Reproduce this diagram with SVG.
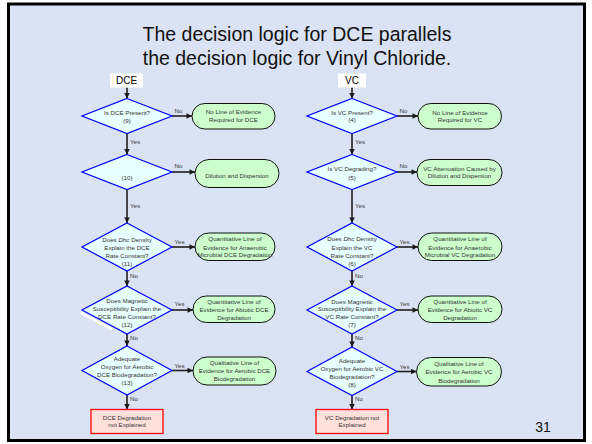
<svg xmlns="http://www.w3.org/2000/svg" width="592" height="444" viewBox="0 0 592 444">
  <defs>
    <marker id="arrow" viewBox="0 0 10 10" refX="10" refY="5" markerWidth="6" markerHeight="5.5" markerUnits="userSpaceOnUse" orient="auto">
      <path d="M0,0 L10,5 L0,10 z" fill="#1a1a1a"/>
    </marker>
    <style>
      .title { font-family: "Liberation Sans", Arial, sans-serif; font-size: 19.5px; fill: #111; text-anchor: middle; }
      .head { font-family: "Liberation Sans", Arial, sans-serif; font-size: 10px; fill: #000; text-anchor: middle; }
      .t { font-family: "Liberation Sans", Arial, sans-serif; font-size: 6.2px; fill: #333; text-anchor: middle; }
      .lbl { font-family: "Liberation Sans", Arial, sans-serif; font-size: 6.2px; fill: #333; }
      .lblc { font-family: "Liberation Sans", Arial, sans-serif; font-size: 6.2px; fill: #333; text-anchor: middle; }
      .pg { font-family: "Liberation Sans", Arial, sans-serif; font-size: 14px; fill: #111; text-anchor: middle; }
      .dec { fill: #E8FFFF; stroke: #0000FF; stroke-width: 1.2; }
      .term { fill: #CCFFCC; stroke: #111; stroke-width: 1; }
      .fail { fill: #FFE0DA; stroke: #FF0000; stroke-width: 1.3; }
      .hdr { fill: #FFFFFF; }
      .conn line { stroke: #1f1f1f; stroke-width: 1.6; marker-end: url(#arrow); }
    </style>
  </defs>

  <!-- slide background and frame -->
  <rect x="0" y="0" width="592" height="444" fill="#FFFFFF"/>
  <rect x="8.5" y="4" width="576" height="436.5" fill="#DAE3F3" stroke="#000" stroke-width="3"/>

  <!-- title -->
  <text class="title" x="297" y="41">The decision logic for DCE parallels</text>
  <text class="title" x="297" y="65">the decision logic for Vinyl Chloride.</text>

  <!-- connectors -->
  <g id="connectors" class="conn">
    <!-- DCE column -->
    <line x1="127" y1="87.5" x2="127" y2="98.5"/>
    <line x1="127" y1="133.5" x2="127" y2="154.5"/>
    <line x1="127" y1="189.5" x2="127" y2="223"/>
    <line x1="127" y1="271" x2="127" y2="286"/>
    <line x1="127" y1="334" x2="127" y2="346"/>
    <line x1="127" y1="395" x2="127" y2="409.5"/>
    <line x1="172" y1="116" x2="192" y2="116"/>
    <line x1="172" y1="172" x2="195" y2="172"/>
    <line x1="172" y1="247" x2="195" y2="247"/>
    <line x1="172" y1="310" x2="193" y2="310"/>
    <line x1="172" y1="370.5" x2="193" y2="370.5"/>
    <!-- VC column -->
    <line x1="352" y1="87.5" x2="352" y2="98.5"/>
    <line x1="352" y1="133.5" x2="352" y2="154.5"/>
    <line x1="352" y1="189.5" x2="352" y2="223"/>
    <line x1="352" y1="271" x2="352" y2="286"/>
    <line x1="352" y1="334" x2="352" y2="347"/>
    <line x1="352" y1="395.5" x2="352" y2="409.5"/>
    <line x1="397" y1="116" x2="418" y2="116"/>
    <line x1="397" y1="172" x2="417" y2="172"/>
    <line x1="397" y1="247" x2="418" y2="247"/>
    <line x1="397" y1="310" x2="418" y2="310"/>
    <line x1="397" y1="371.5" x2="416.5" y2="371.5"/>
  </g>

  <!-- connector labels -->
  <g id="connector-labels">
    <text class="lbl" x="130" y="144.2">Yes</text>
    <text class="lbl" x="130" y="208">Yes</text>
    <text class="lbl" x="130" y="278.2">No</text>
    <text class="lbl" x="130" y="340">No</text>
    <text class="lbl" x="130" y="401.2">No</text>
    <text class="lblc" x="178.5" y="113">No</text>
    <text class="lblc" x="178.5" y="168.3">No</text>
    <text class="lblc" x="179.5" y="244">Yes</text>
    <text class="lblc" x="179.5" y="305.6">Yes</text>
    <text class="lblc" x="179.5" y="368.3">Yes</text>

    <text class="lbl" x="355" y="144.2">Yes</text>
    <text class="lbl" x="355" y="208">Yes</text>
    <text class="lbl" x="355" y="278.2">No</text>
    <text class="lbl" x="355" y="340">No</text>
    <text class="lbl" x="355" y="401.2">No</text>
    <text class="lblc" x="403.5" y="113">No</text>
    <text class="lblc" x="403.5" y="168.3">No</text>
    <text class="lblc" x="404.5" y="244">Yes</text>
    <text class="lblc" x="404.5" y="305.6">Yes</text>
    <text class="lblc" x="404.5" y="368.8">Yes</text>
  </g>

  <!-- ===== DCE column ===== -->
  <g id="dce-head">
    <rect class="hdr" x="110" y="73.5" width="33" height="14"/>
    <text class="head" x="126.5" y="84.3">DCE</text>
  </g>

  <g id="dce-q9">
    <polygon class="dec" points="127,98.5 172,116 127,133.5 82,116"/>
    <text class="t" x="127" y="114.6">Is DCE Present?</text>
    <text class="t" x="127" y="122.8">(9)</text>
  </g>
  <g id="dce-none">
    <rect class="term" x="192" y="103.5" width="83" height="25.5" rx="12.75"/>
    <text class="t" x="233.5" y="114.4">No Line of Evidence</text>
    <text class="t" x="233.5" y="122.3">Required for DCE</text>
  </g>

  <g id="dce-q10">
    <polygon class="dec" points="127,154.5 172,172 127,189.5 82,172"/>
    <text class="t" x="127" y="180">(10)</text>
  </g>
  <g id="dce-dilution">
    <rect class="term" x="195" y="159.5" width="84" height="28" rx="14"/>
    <text class="t" x="237" y="178">Dilution and Dispersion</text>
  </g>

  <g id="dce-q11">
    <polygon class="dec" points="127,223 172,247 127,271 82,247"/>
    <text class="t" x="127" y="242.2">Does <tspan font-style="italic">Dhc</tspan> Density</text>
    <text class="t" x="127" y="249.8">Explain the DCE</text>
    <text class="t" x="127" y="257.8">Rate Constant?</text>
    <text class="t" x="127" y="265.5">(11)</text>
  </g>
  <g id="dce-anaerobic">
    <rect class="term" x="195" y="233" width="80" height="27.5" rx="13.75"/>
    <text class="t" x="235" y="241.3">Quantitative Line of</text>
    <text class="t" x="235" y="249.5">Evidence for Anaerobic</text>
    <text class="t" x="235" y="257.4">Microbial DCE Degradation</text>
  </g>

  <g id="dce-q12">
    <!-- light sliver along the lower-left edge -->
    <polyline points="80.6,312.6 112,329.4" fill="none" stroke="#FFFFFF" stroke-width="2.5"/>
    <polygon class="dec" points="127,286 172,310 127,334 82,310"/>
    <text class="t" x="127" y="303">Does Magnetic</text>
    <text class="t" x="127" y="310.7">Susceptibility Explain the</text>
    <text class="t" x="127" y="318.8">DCE Rate Constant?</text>
    <text class="t" x="127" y="327">(12)</text>
  </g>
  <g id="dce-abiotic">
    <rect class="term" x="193" y="296" width="82" height="26.5" rx="13.25"/>
    <text class="t" x="234" y="304">Quantitative Line of</text>
    <text class="t" x="234" y="311.6">Evidence for Abiotic DCE</text>
    <text class="t" x="234" y="319.5">Degradation</text>
  </g>

  <g id="dce-q13">
    <polygon class="dec" points="127,346 172,370.5 127,395 82,370.5"/>
    <text class="t" x="127" y="361.3">Adequate</text>
    <text class="t" x="127" y="369">Oxygen for Aerobic</text>
    <text class="t" x="127" y="376.7">DCE Biodegradation?</text>
    <text class="t" x="127" y="384.6">(13)</text>
  </g>
  <g id="dce-aerobic">
    <rect class="term" x="193" y="357" width="83" height="28" rx="14"/>
    <text class="t" x="234.5" y="365">Qualitative Line of</text>
    <text class="t" x="234.5" y="373.2">Evidence for Aerobic DCE</text>
    <text class="t" x="234.5" y="381.2">Biodegradation</text>
  </g>

  <g id="dce-unexplained">
    <rect class="fail" x="91" y="409.5" width="72" height="24"/>
    <text class="t" x="127" y="419.5">DCE Degradation</text>
    <text class="t" x="127" y="427.3">not Explained</text>
  </g>

  <!-- ===== VC column ===== -->
  <g id="vc-head">
    <rect class="hdr" x="338" y="73.5" width="28" height="14"/>
    <text class="head" x="352" y="84.3">VC</text>
  </g>

  <g id="vc-q4">
    <polygon class="dec" points="352,98.5 397,116 352,133.5 307,116"/>
    <text class="t" x="352" y="114.8">Is VC Present?</text>
    <text class="t" x="352" y="122.3">(4)</text>
  </g>
  <g id="vc-none">
    <rect class="term" x="418" y="103.5" width="83.5" height="25.5" rx="12.75"/>
    <text class="t" x="460" y="114.5">No Line of Evidence</text>
    <text class="t" x="460" y="122.3">Required for VC</text>
  </g>

  <g id="vc-q5">
    <polygon class="dec" points="352,154.5 397,172 352,189.5 307,172"/>
    <text class="t" x="352" y="170.6">Is VC Degrading?</text>
    <text class="t" x="352" y="179.5">(5)</text>
  </g>
  <g id="vc-dilution">
    <rect class="term" x="417" y="159.5" width="85" height="26" rx="13"/>
    <text class="t" x="459.5" y="170.6">VC Attenuation Caused by</text>
    <text class="t" x="459.5" y="178.4">Dilution and Dispersion</text>
  </g>

  <g id="vc-q6">
    <polygon class="dec" points="352,223 397,247 352,271 307,247"/>
    <text class="t" x="352" y="241.3">Does <tspan font-style="italic">Dhc</tspan> Density</text>
    <text class="t" x="352" y="249.6">Explain the VC</text>
    <text class="t" x="352" y="257.9">Rate Constant?</text>
    <text class="t" x="352" y="265.5">(6)</text>
  </g>
  <g id="vc-anaerobic">
    <rect class="term" x="418" y="233" width="84" height="27.5" rx="13.75"/>
    <text class="t" x="460" y="241.3">Quantitative Line of</text>
    <text class="t" x="460" y="249.5">Evidence for Anaerobic</text>
    <text class="t" x="460" y="257.4">Microbial VC Degradation</text>
  </g>

  <g id="vc-q7">
    <polygon class="dec" points="352,286 397,310 352,334 307,310"/>
    <text class="t" x="352" y="303.9">Does Magnetic</text>
    <text class="t" x="352" y="310.7">Susceptibility Explain the</text>
    <text class="t" x="352" y="318.8">VC Rate Constant?</text>
    <text class="t" x="352" y="327.2">(7)</text>
  </g>
  <g id="vc-abiotic">
    <rect class="term" x="418" y="296" width="84" height="26.5" rx="13.25"/>
    <text class="t" x="460" y="304">Quantitative Line of</text>
    <text class="t" x="460" y="311.6">Evidence for Abiotic VC</text>
    <text class="t" x="460" y="319.5">Degradation</text>
  </g>

  <g id="vc-q8">
    <polygon class="dec" points="352,347 397,371.5 352,395.5 307,371.5"/>
    <text class="t" x="352" y="363.2">Adequate</text>
    <text class="t" x="352" y="371">Oxygen for Aerobic VC</text>
    <text class="t" x="352" y="378.9">Biodegradation?</text>
    <text class="t" x="352" y="387.1">(8)</text>
  </g>
  <g id="vc-aerobic">
    <rect class="term" x="416.5" y="357.5" width="85" height="28.5" rx="14.25"/>
    <text class="t" x="459" y="365.6">Qualitative Line of</text>
    <text class="t" x="459" y="373.9">Evidence for Aerobic VC</text>
    <text class="t" x="459" y="382.5">Biodegradation</text>
  </g>

  <g id="vc-unexplained">
    <rect class="fail" x="316" y="409.5" width="72" height="24"/>
    <text class="t" x="352" y="419.5">VC Degradation not</text>
    <text class="t" x="352" y="427.3">Explained</text>
  </g>

  <!-- slide number -->
  <text class="pg" x="543" y="432">31</text>
</svg>
